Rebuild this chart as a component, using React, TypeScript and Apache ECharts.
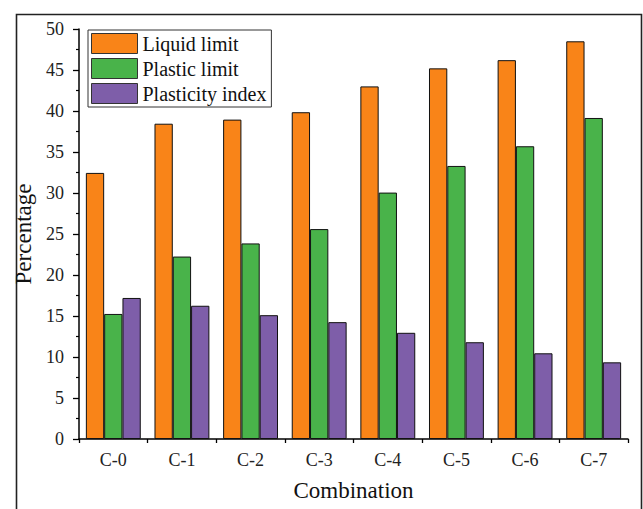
import React, { useEffect, useRef } from "react";
import * as echarts from "echarts";

const categories = ["C-0", "C-1", "C-2", "C-3", "C-4", "C-5", "C-6", "C-7"];
const liquidLimit = [32.45, 38.45, 38.95, 39.85, 43.0, 45.2, 46.2, 48.5];
const plasticLimit = [15.25, 22.25, 23.85, 25.6, 30.05, 33.3, 35.7, 39.15];
const plasticityIndex = [17.2, 16.25, 15.1, 14.25, 12.95, 11.8, 10.45, 9.35];
const seriesNames = ["Liquid limit", "Plastic limit", "Plasticity index"];
const colors = ["#F98418", "#49B34A", "#7E5EA9"];

const FONT = "'Liberation Serif', 'DejaVu Serif', serif";

export default function App() {
  const ref = useRef<HTMLDivElement>(null);
  useEffect(() => {
    if (!ref.current) return;
    const chart = echarts.init(ref.current, null, { renderer: "svg" });
    const data = [liquidLimit, plasticLimit, plasticityIndex];
    chart.setOption({
      animation: false,
      backgroundColor: "#ffffff",
      textStyle: { fontFamily: FONT, color: "#111" },
      graphic: [
        {
          type: "rect",
          left: 14,
          top: 12,
          shape: { x: 0, y: 0, width: 625, height: 510 },
          style: { fill: "none", stroke: "#222", lineWidth: 1.6 },
          silent: true,
        },
      ],
      grid: { left: 79, right: 15, top: 29, bottom: 70, containLabel: false },
      legend: {
        orient: "vertical",
        left: 88,
        top: 30,
        padding: [3, 5, 3, 3],
        itemWidth: 46,
        itemHeight: 20,
        itemGap: 4,
        borderColor: "#333",
        borderWidth: 1,
        borderRadius: 0,
        icon: "rect",
        textStyle: { fontFamily: FONT, fontSize: 20, color: "#111" },
        itemStyle: { borderColor: "#333", borderWidth: 1 },
        data: seriesNames,
      },
      xAxis: [
        {
          type: "category",
          data: categories,
          name: "Combination",
          nameLocation: "middle",
          nameGap: 40,
          nameTextStyle: { fontFamily: FONT, fontSize: 23, color: "#111" },
          axisLine: { lineStyle: { color: "#000", width: 1.5 } },
          axisTick: { alignWithLabel: true, length: 7, lineStyle: { color: "#000", width: 1.3 } },
          axisLabel: { fontFamily: FONT, fontSize: 18, color: "#222", margin: 12 },
        },
        {
          type: "category",
          data: categories,
          position: "bottom",
          axisLine: { show: false },
          axisTick: { show: true, length: 4, lineStyle: { color: "#000", width: 1.3 } },
          axisLabel: { show: false },
        },
      ],
      yAxis: {
        type: "value",
        min: 0,
        max: 50,
        interval: 5,
        name: "Percentage",
        nameLocation: "middle",
        nameGap: 37,
        nameTextStyle: { fontFamily: FONT, fontSize: 23, color: "#111" },
        axisLine: { show: true, lineStyle: { color: "#000", width: 1.5 } },
        axisTick: { show: true, length: 6, lineStyle: { color: "#000", width: 1.3 } },
        minorTick: { show: true, splitNumber: 2, length: 3, lineStyle: { color: "#000", width: 1.2 } },
        splitLine: { show: false },
        axisLabel: { fontFamily: FONT, fontSize: 18, color: "#222", margin: 15 },
      },
      series: seriesNames.map((name, i) => ({
        name,
        type: "bar",
        data: data[i],
        barGap: "0%",
        barCategoryGap: "20%",
        itemStyle: { color: colors[i], borderColor: "#111", borderWidth: 1 },
      })),
    });
    return () => chart.dispose();
  }, []);
  return (
    <div
      ref={ref}
      style={{ position: "fixed", left: 0, top: 0, width: 643, height: 509 }}
    />
  );
}
